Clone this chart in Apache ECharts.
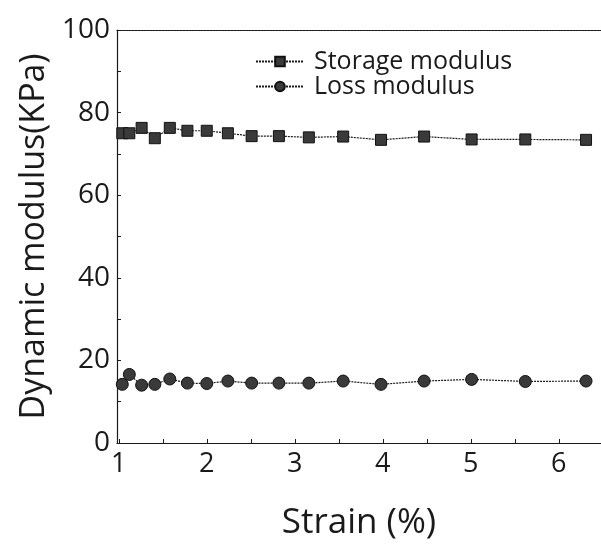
<!DOCTYPE html>
<html><head><meta charset="utf-8">
<script src="https://cdn.jsdelivr.net/npm/echarts@6/dist/echarts.min.js"></script>
<style>html,body{margin:0;padding:0;background:#fff}#c{width:601px;height:547px}</style>
</head><body><div id="c"></div>
<script>
var strain = [1.04, 1.12, 1.26, 1.41, 1.58, 1.78, 2.0, 2.24, 2.51, 2.82, 3.16, 3.55, 3.98, 4.47, 5.01, 5.62, 6.31];
var storageModulus = [75.0, 75.0, 76.3, 73.8, 76.3, 75.6, 75.6, 75.0, 74.3, 74.3, 74.0, 74.2, 73.4, 74.2, 73.5, 73.5, 73.4];
var lossModulus = [14.2, 16.6, 14.0, 14.2, 15.5, 14.5, 14.4, 15.0, 14.5, 14.5, 14.5, 15.0, 14.2, 15.0, 15.4, 14.9, 15.0];
var xTicks = [1, 1.5, 2, 2.5, 3, 3.5, 4, 4.5, 5, 5.5, 6];
var xLabels = [1, 2, 3, 4, 5, 6];
var yLabels = [0, 20, 40, 60, 80, 100];

var font = '"Open Sans", "Noto Sans", sans-serif';
var ink = '#1a1a1a';
var markFill = '#3a3a3a';
function pairs(xs, ys){ return xs.map(function(x,i){ return [x, ys[i]]; }); }

var chart = echarts.init(document.getElementById('c'), null, {renderer:'canvas'});
chart.setOption({
  animation: false,
  backgroundColor: '#fff',
  grid: {left: 117, top: 30, right: 0, bottom: 104, containLabel: false},
  legend: {
    orient: 'vertical', left: 250, top: 44, itemGap: 0,
    itemWidth: 48, itemHeight: 12,
    textStyle: {fontFamily: font, fontSize: 25, color: ink, lineHeight: 25, padding: [0,0,0,5]},
    data: ['Storage modulus', 'Loss modulus']
  },
  xAxis: [{
    type: 'value', min: 0.98, max: 6.48,
    name: 'Strain (%)', nameLocation: 'middle', nameGap: 63,
    nameTextStyle: {fontFamily: font, fontSize: 35, color: ink},
    axisLine: {show: true, lineStyle: {color: ink, width: 1.2}},
    axisTick: {show: true, inside: true, length: 4, customValues: xTicks, lineStyle: {color: ink}},
    axisLabel: {customValues: xLabels, fontFamily: font, fontSize: 27, color: ink, margin: 8},
    splitLine: {show: false}
  }, {
    type: 'value', position: 'top', min: 0.98, max: 6.48,
    axisLine: {show: true, lineStyle: {color: ink, width: 1.2, type: [2,1]}},
    axisTick: {show: false}, axisLabel: {show: false}, splitLine: {show: false}
  }],
  yAxis: {
    type: 'value', min: 0, max: 100, interval: 10,
    name: 'Dynamic modulus(KPa)', nameLocation: 'middle', nameGap: 66,
    nameTextStyle: {fontFamily: font, fontSize: 34, color: ink},
    axisLine: {show: true, lineStyle: {color: ink, width: 1.2}},
    axisTick: {show: true, inside: true, length: 4, lineStyle: {color: ink}},
    axisLabel: {customValues: yLabels, fontFamily: font, fontSize: 28, color: ink, margin: 7},
    splitLine: {show: false}
  },
  series: [{
    name: 'Storage modulus', type: 'line', symbol: 'rect', symbolSize: 11,
    data: pairs(strain, storageModulus),
    lineStyle: {color: ink, width: 1.2, type: [2,1]},
    itemStyle: {color: markFill, borderColor: '#111', borderWidth: 1}
  }, {
    name: 'Loss modulus', type: 'line', symbol: 'circle', symbolSize: 12,
    data: pairs(strain, lossModulus),
    lineStyle: {color: ink, width: 1.2, type: [2,1]},
    itemStyle: {color: markFill, borderColor: '#111', borderWidth: 1}
  }]
});
</script></body></html>
